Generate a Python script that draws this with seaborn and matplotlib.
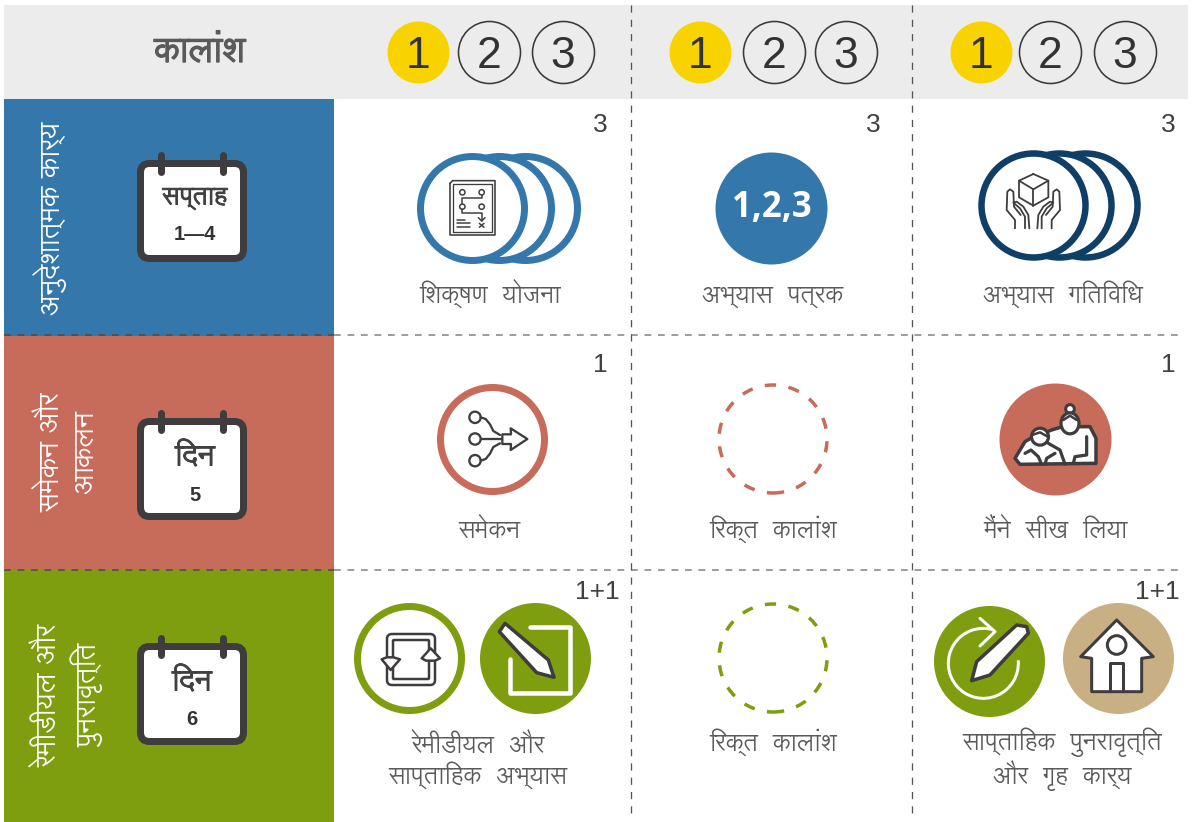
import re
import matplotlib
matplotlib.use("Agg")
import matplotlib.pyplot as plt
from matplotlib.patches import FancyBboxPatch, Polygon, Rectangle, Circle, Ellipse, Arc
from matplotlib import patheffects as pe
import seaborn as sns

# chart content
period_title = "कालांश"
period_numbers = ["1", "2", "3"]
section_labels = ["अनुदेशात्मक कार्य", "समेकन और\nआकलन", "रेमीडीयल और\nपुनरावृत्ति"]
duration_units = ["सप्ताह", "दिन", "दिन"]
duration_values = ["1—4", "5", "6"]
counts = ["3", "3", "3", "1", "", "1", "1+1", "", "1+1"]
activity_labels = [
    "शिक्षण  योजना", "अभ्यास  पत्रक", "अभ्यास  गतिविधि",
    "समेकन", "रिक्त  कालांश", "मैंने  सीख  लिया",
    "रेमीडीयल  और\nसाप्ताहिक  अभ्यास", "रिक्त  कालांश", "साप्ताहिक  पुनरावृत्ति\nऔर  गृह  कार्य",
]
worksheet_label = "1,2,3"

# colours
BLUE = "#3478AB"
NAVY = "#0F3E66"
RED = "#C76C5A"
GREEN = "#7F9E0F"
TAN = "#C8B084"
YELLOW = "#F9D300"
HEADER = "#ECECEC"
DARK = "#3F3C3E"
TEXT = "#5A5A5A"

DEVA = ["Lohit Devanagari", "Noto Sans Devanagari", "FreeSans", "DejaVu Sans"]
LATIN = ["Liberation Sans", "DejaVu Sans"]

sns.set_theme(style="white")
fig = plt.figure(figsize=(11.95, 8.22), dpi=100)
ax = fig.add_axes([0, 0, 1, 1])


def px(v):
    return v * 0.72


def visual(s):
    # matplotlib does no shaping, the short i has to be drawn before its consonant
    return re.sub("([क-ह])ि", "ि\\1", s)


def heavy(color, w=0.7):
    return [pe.withStroke(linewidth=w, foreground=color)]


def disc(x, y, r, face, edge=None, lw=0, z=3, **kw):
    d = px(2 * r)
    sns.scatterplot(x=[x], y=[y], s=d * d, color=face, edgecolor=edge if edge else face,
                    linewidth=px(lw), zorder=z, legend=False, ax=ax, **kw)


def line(ox, oy, pts, color=DARK, lw=2.0, z=6, scale=3.0):
    xs = [ox + p[0] / scale for p in pts]
    ys = [oy + p[1] / scale for p in pts]
    ax.plot(xs, ys, color=color, lw=px(lw), zorder=z, solid_capstyle="round", solid_joinstyle="round")


def poly(ox, oy, pts, face="white", edge=DARK, lw=2.5, z=6, scale=3.0):
    ax.add_patch(Polygon([(ox + p[0] / scale, oy + p[1] / scale) for p in pts], closed=True,
                         facecolor=face, edgecolor=edge, lw=px(lw), zorder=z, joinstyle="round"))


def ring(ox, oy, cx, cy, r, face="white", edge=DARK, lw=2.0, z=6):
    ax.add_patch(Circle((ox + cx / 3, oy + cy / 3), r / 3, facecolor=face, edgecolor=edge, lw=px(lw), zorder=z))


def calendar(top, unit, value, tx, uy, vy, usize):
    ax.add_patch(FancyBboxPatch((140.5, top + 3.5), 103, 95, boxstyle="round,pad=0,rounding_size=9",
                                facecolor="white", edgecolor=DARK, lw=px(7), zorder=4))
    for rx in (161, 223):
        ax.plot([rx, rx], [top - 5, top + 12], color=DARK, lw=px(7), zorder=5, solid_capstyle="round")
    ax.text(tx, uy, visual(unit), family=DEVA, fontsize=usize, color="#404040",
            ha="center", va="center", zorder=6, path_effects=heavy("#404040"))
    ax.text(tx, vy, value, family=LATIN, fontsize=14.5, weight="bold", color="#333333",
            ha="center", va="center", zorder=6)


# header and section bands
ax.add_patch(Rectangle((4, 5), 1184, 94, color=HEADER, lw=0, zorder=1))
for top, h, col in zip([99, 336, 570], [237, 234, 252], [BLUE, RED, GREEN]):
    ax.add_patch(Rectangle((4, top), 330, h, color=col, lw=0, zorder=1))

for y in (335, 570):
    ax.plot([4, 334], [y, y], color="#4A4A4A", lw=px(1.5), dashes=(4.5, 4.5), zorder=2)
    ax.plot([334, 1180], [y, y], color="#7F7F7F", lw=px(1.5), dashes=(4.5, 4.5), zorder=2)
for x in (631, 912):
    ax.plot([x, x], [5, 816], color="#555555", lw=px(1.3), dashes=(5.5, 5.5), zorder=2)

# header row
ax.text(200, 53, visual(period_title), family=DEVA, fontsize=25, color=TEXT,
        ha="center", va="center", zorder=5, path_effects=heavy(TEXT, 1.0))
header_slots = [[418, 489, 563], [700, 774, 846], [981, 1050, 1125]]
for slots in header_slots:
    for i, (x, num) in enumerate(zip(slots, period_numbers)):
        if i == 0:
            disc(x, 52, 31, YELLOW)
        else:
            disc(x, 52, 31, HEADER, edge="#3A3A3A", lw=1.6)
        ax.text(x, 52, num, family=LATIN, fontsize=32, color="#333333", ha="center", va="center_baseline", zorder=5)

# section labels
ax.text(50, 218, visual(section_labels[0]), family=DEVA, fontsize=20, color="white", rotation=90,
        ha="center", va="center", zorder=5)
ax.text(70, 452, visual(section_labels[1]), family=DEVA, fontsize=20, color="white", rotation=90,
        ha="center", va="center", linespacing=1.23, multialignment="center", zorder=5)
ax.text(70, 695, visual(section_labels[2]), family=DEVA, fontsize=20, color="white", rotation=90,
        ha="center", va="center", linespacing=1.23, multialignment="center", zorder=5)

# calendars
calendar(160, duration_units[0], duration_values[0], 195, 198, 234, 18)
calendar(418, duration_units[1], duration_values[1], 195, 458, 495, 21)
calendar(643, duration_units[2], duration_values[2], 192, 683, 719, 21)

# count markers
count_xy = [(600, 125), (873, 125), (1168, 125), (600, 365), None, (1168, 365), (597, 592), None, (1157, 592)]
for txt, xy in zip(counts, count_xy):
    if xy:
        ax.text(xy[0], xy[1], txt, family=LATIN, fontsize=19, color="#404040", ha="center", va="center", zorder=5)

# activity labels
label_xy = [(490, 303), (773, 303), (1063, 303), (489, 538), (773, 538), (1055, 538),
            (478, 784), (773, 751), (1062, 784)]
for txt, xy in zip(activity_labels, label_xy):
    ax.text(xy[0], xy[1], visual(txt), family=DEVA, fontsize=17.5, color=TEXT, ha="center", va="baseline",
            linespacing=1.15, multialignment="center", zorder=5)

# three overlapping rings, lesson plan
for cx, z in zip([525, 499, 472], [3, 3.1, 3.2]):
    disc(cx, 208, 52, "white", edge=BLUE, lw=7, z=z)
ox, oy = 440, 170
line(ox, oy, [(30, 40), (30, 195), (165, 195), (165, 32), (38, 32), (30, 40)], lw=1.6)
line(ox, oy, [(40, 48), (40, 185), (155, 185), (155, 42), (40, 42), (40, 48)], lw=1.3)
for c in [(67, 67), (125, 67), (67, 110), (125, 110)]:
    ring(ox, oy, c[0], c[1], 8, lw=1.5)
line(ox, oy, [(125, 75), (125, 85), (67, 85), (67, 102)], lw=1.5)
line(ox, oy, [(67, 118), (67, 130), (125, 130), (125, 152)], lw=1.5)
line(ox, oy, [(115, 143), (125, 153), (135, 143)], lw=1.5)
line(ox, oy, [(118, 160), (132, 172)], lw=1.5)
line(ox, oy, [(132, 160), (118, 172)], lw=1.5)
for yy, xe in [(150, 75), (160, 90), (172, 90)]:
    line(ox, oy, [(50, yy), (xe, yy)], lw=1.5)

# worksheet disc
disc(771, 208, 56, BLUE)
ax.text(772, 208, worksheet_label, family=["Open Sans", "DejaVu Sans"], weight="bold", fontsize=25, color="white",
        ha="center", va="center", zorder=5)

# three rings, practice activity
for cx, z in zip([1085, 1059, 1033], [3, 3.1, 3.2]):
    disc(cx, 205, 52, "white", edge=NAVY, lw=6.5, z=z)
ox, oy = 990, 160
line(ox, oy, [(130, 42), (175, 62), (175, 112), (130, 137), (87, 112), (87, 62), (130, 42)], lw=1.8)
line(ox, oy, [(87, 62), (130, 88), (175, 62)], lw=1.8)
line(ox, oy, [(130, 88), (130, 137)], lw=1.8)
hand_outer = [(75, 205), (75, 180), (50, 150), (52, 95), (60, 88), (70, 95), (72, 140), (92, 165)]
hand_inner = [(105, 205), (105, 170), (90, 145), (70, 128), (80, 125), (100, 140), (115, 165), (118, 205)]
for h in (hand_outer, hand_inner):
    line(ox, oy, h, lw=1.8)
    line(ox, oy, [(260 - p[0], p[1]) for p in h], lw=1.8)

# consolidation ring and flow arrow
disc(492, 439, 52, "white", edge=RED, lw=7)
ox, oy = 445, 395
for c in [(90, 67), (90, 132), (90, 197)]:
    ring(ox, oy, c[0], c[1], 17, lw=2.3)
line(ox, oy, [(107, 67), (122, 72), (135, 88), (145, 108), (165, 120)], lw=2.3)
line(ox, oy, [(107, 132), (172, 132)], lw=2.3)
line(ox, oy, [(107, 197), (122, 192), (135, 176), (145, 156), (165, 145)], lw=2.3)
poly(ox, oy, [(172, 118), (198, 118), (197, 100), (247, 132), (197, 165), (198, 147), (172, 147)], lw=2.3)

# empty period rings
for cy, col in zip([439, 658], [RED, GREEN]):
    disc(773, cy, 54, "white", edge=col, lw=3.5, z=3, linestyle=(0, (3.2, 3.6)))

# grandmother and child
disc(1055, 439, 56, RED)
ox, oy = 1005, 395
body = [(30, 190), (60, 140), (80, 128), (140, 105), (172, 95), (255, 95), (273, 130), (273, 205), (45, 208)]
poly(ox, oy, body, lw=3.5)
ring(ox, oy, 195, 42, 13, lw=3)
ax.add_patch(Ellipse((ox + 195 / 3, oy + 85 / 3), 18, 21, facecolor="white", edgecolor=DARK, lw=px(3.2), zorder=6))
ax.add_patch(Circle((ox + 105 / 3, oy + 125 / 3), 8.5, facecolor="white", edgecolor=DARK, lw=px(3.2), zorder=7))
line(ox, oy, [(82, 120), (105, 112), (128, 125)], lw=2.5, z=8)
line(ox, oy, [(175, 75), (195, 62), (215, 75)], lw=2.5, z=8)
line(ox, oy, [(130, 145), (165, 165), (180, 208)], lw=3.2, z=7)
line(ox, oy, [(60, 175), (78, 165), (100, 185), (110, 208)], lw=3.2, z=7)
line(ox, oy, [(120, 208), (125, 190), (150, 175)], lw=3.2, z=7)
line(ox, oy, [(205, 205), (210, 185), (245, 180), (245, 125)], lw=3.2, z=7)

# remedial loop
disc(409, 658, 52, "white", edge=GREEN, lw=7)
ox, oy = 340, 570
ax.add_patch(FancyBboxPatch((ox + 47, oy + 64), 48, 51, boxstyle="round,pad=0,rounding_size=5",
                            facecolor="none", edgecolor=DARK, lw=px(2.5), zorder=6))
ax.add_patch(FancyBboxPatch((ox + 53, oy + 70), 36, 39, boxstyle="round,pad=0,rounding_size=1",
                            facecolor="none", edgecolor=DARK, lw=px(2.5), zorder=6))
poly(ox, oy, [(125, 268), (140, 262), (160, 262), (180, 268), (152, 300)], lw=2.5)
poly(ox, oy, [(245, 265), (272, 235), (300, 265), (285, 272), (258, 272)], lw=2.5)

# weekly practice, pencil in a square
disc(535, 658, 55.5, GREEN)
line(ox, oy, [(570, 172), (690, 172), (690, 370), (510, 370), (510, 268)], color="white", lw=4.5, z=5)
poly(ox, oy, [(478, 185), (495, 160), (625, 270), (642, 322), (590, 308)], lw=3.5)

# weekly revision, pencil with arrow
disc(989, 661, 55.5, GREEN)
ox, oy = 920, 340
ax.add_patch(Arc((ox + 190 / 3, oy + 970 / 3), 70, 70, angle=0, theta1=-5, theta2=285, color="white", lw=px(3), zorder=5))
line(ox, oy, [(180, 835), (225, 875), (180, 918)], color="white", lw=3, z=5)
poly(ox, oy, [(155, 1022), (170, 965), (290, 855), (320, 860), (325, 880), (210, 1005)], lw=3.5)

# homework, house
disc(1118, 658, 55.5, TAN)
house = [(590, 840), (700, 950), (665, 955), (665, 1055), (515, 1055), (515, 955), (482, 950)]
poly(ox, oy, house, lw=3)
ring(ox, oy, 590, 915, 28, lw=3)
line(ox, oy, [(570, 1052), (570, 968), (610, 968), (610, 1052)], lw=3)

ax.set_xlim(0, 1195)
ax.set_ylim(822, 0)
ax.set_axis_off()
fig.savefig("out.png", dpi=100, facecolor="white")
